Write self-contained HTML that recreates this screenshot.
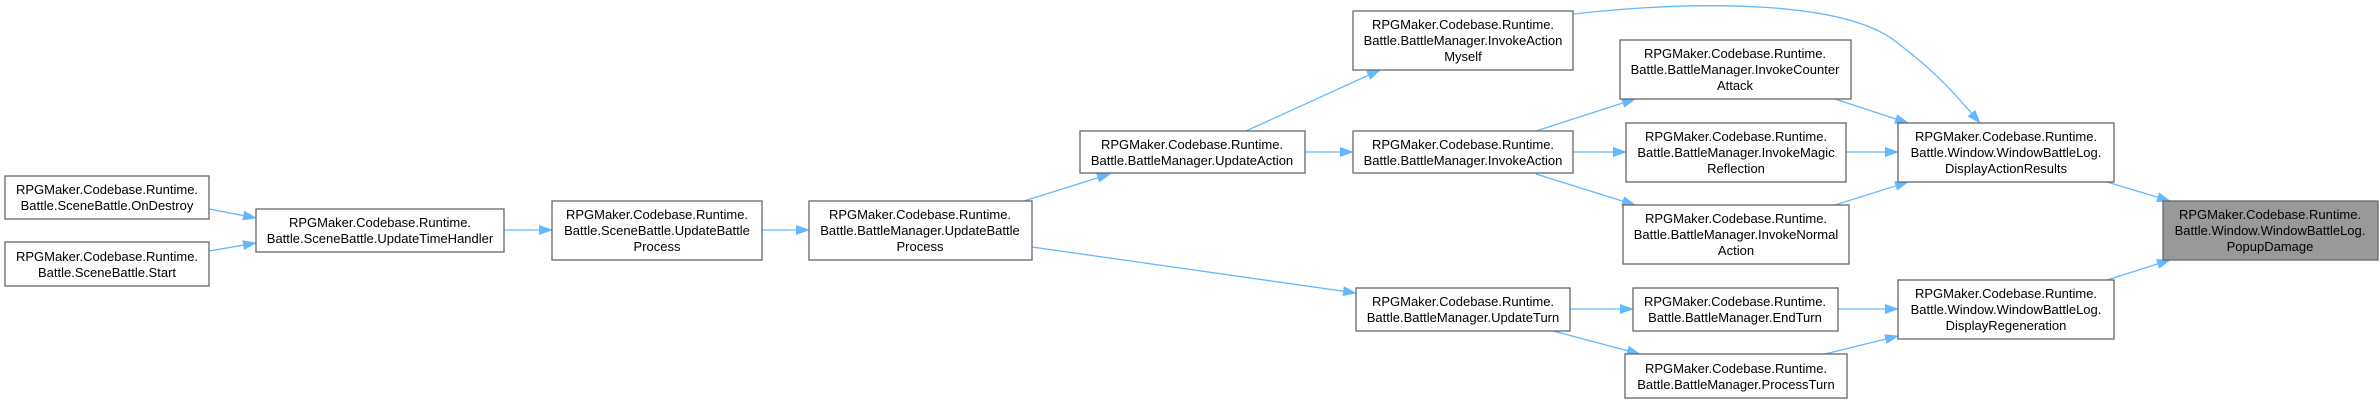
<!DOCTYPE html>
<html><head><meta charset="utf-8"><style>
html,body{margin:0;padding:0;background:#fff;}
svg{display:block;}
text{font-family:"Liberation Sans",sans-serif;font-size:13px;fill:#000;}
.n{fill:#fff;stroke:#666;stroke-width:1.3;}
.e{stroke:#63b8ff;stroke-width:1.3;fill:none;marker-end:url(#a);}
</style></head><body>
<svg width="2380" height="403" viewBox="0 0 2380 403" xmlns="http://www.w3.org/2000/svg">
<defs><marker id="a" markerWidth="14" markerHeight="10" refX="13" refY="5" orient="auto" markerUnits="userSpaceOnUse"><path d="M0,0 L14,5 L0,10 z" fill="#63b8ff"/></marker></defs>

<line class="e" x1="209" y1="209" x2="256" y2="218"/>
<line class="e" x1="209" y1="251" x2="256" y2="243"/>
<line class="e" x1="504" y1="230" x2="552" y2="230"/>
<line class="e" x1="762" y1="230" x2="809" y2="230"/>
<line class="e" x1="1024" y1="201" x2="1110" y2="174"/>
<line class="e" x1="1032" y1="247" x2="1356" y2="293"/>
<line class="e" x1="1246" y1="131" x2="1380" y2="70"/>
<line class="e" x1="1305" y1="152" x2="1353" y2="152"/>
<path class="e" d="M1573,14 C1700,0 1850,0 1900,45 C1940,75 1960,100 1980,123"/>
<line class="e" x1="1536" y1="131" x2="1635" y2="99"/>
<line class="e" x1="1573" y1="152" x2="1626" y2="152"/>
<line class="e" x1="1536" y1="174" x2="1635" y2="205"/>
<line class="e" x1="1835" y1="99" x2="1908" y2="123"/>
<line class="e" x1="1846" y1="152" x2="1898" y2="152"/>
<line class="e" x1="1835" y1="205" x2="1908" y2="182"/>
<line class="e" x1="2107" y1="182" x2="2170" y2="201"/>
<line class="e" x1="2107" y1="280" x2="2170" y2="260"/>
<line class="e" x1="1570" y1="309" x2="1633" y2="309"/>
<line class="e" x1="1553" y1="331" x2="1640" y2="354"/>
<line class="e" x1="1838" y1="309" x2="1898" y2="309"/>
<line class="e" x1="1825" y1="354" x2="1898" y2="336"/>

<rect class="n" x="5" y="176" width="204" height="43"/>
<text x="107" y="194" text-anchor="middle">RPGMaker.Codebase.Runtime.</text>
<text x="107" y="210" text-anchor="middle">Battle.SceneBattle.OnDestroy</text>

<rect class="n" x="5" y="242" width="204" height="44"/>
<text x="107" y="261" text-anchor="middle">RPGMaker.Codebase.Runtime.</text>
<text x="107" y="277" text-anchor="middle">Battle.SceneBattle.Start</text>

<rect class="n" x="256" y="209" width="248" height="43"/>
<text x="380" y="227" text-anchor="middle">RPGMaker.Codebase.Runtime.</text>
<text x="380" y="243" text-anchor="middle">Battle.SceneBattle.UpdateTimeHandler</text>

<rect class="n" x="552" y="201" width="210" height="59"/>
<text x="657" y="219" text-anchor="middle">RPGMaker.Codebase.Runtime.</text>
<text x="657" y="235" text-anchor="middle">Battle.SceneBattle.UpdateBattle</text>
<text x="657" y="251" text-anchor="middle">Process</text>

<rect class="n" x="809" y="201" width="223" height="59"/>
<text x="920" y="219" text-anchor="middle">RPGMaker.Codebase.Runtime.</text>
<text x="920" y="235" text-anchor="middle">Battle.BattleManager.UpdateBattle</text>
<text x="920" y="251" text-anchor="middle">Process</text>

<rect class="n" x="1080" y="131" width="225" height="42"/>
<text x="1192" y="149" text-anchor="middle">RPGMaker.Codebase.Runtime.</text>
<text x="1192" y="165" text-anchor="middle">Battle.BattleManager.UpdateAction</text>

<rect class="n" x="1353" y="11" width="220" height="59"/>
<text x="1463" y="29" text-anchor="middle">RPGMaker.Codebase.Runtime.</text>
<text x="1463" y="45" text-anchor="middle">Battle.BattleManager.InvokeAction</text>
<text x="1463" y="61" text-anchor="middle">Myself</text>

<rect class="n" x="1353" y="131" width="220" height="42"/>
<text x="1463" y="149" text-anchor="middle">RPGMaker.Codebase.Runtime.</text>
<text x="1463" y="165" text-anchor="middle">Battle.BattleManager.InvokeAction</text>

<rect class="n" x="1356" y="288" width="214" height="43"/>
<text x="1463" y="306" text-anchor="middle">RPGMaker.Codebase.Runtime.</text>
<text x="1463" y="322" text-anchor="middle">Battle.BattleManager.UpdateTurn</text>

<rect class="n" x="1620" y="40" width="231" height="59"/>
<text x="1735" y="58" text-anchor="middle">RPGMaker.Codebase.Runtime.</text>
<text x="1735" y="74" text-anchor="middle">Battle.BattleManager.InvokeCounter</text>
<text x="1735" y="90" text-anchor="middle">Attack</text>

<rect class="n" x="1626" y="123" width="220" height="59"/>
<text x="1736" y="141" text-anchor="middle">RPGMaker.Codebase.Runtime.</text>
<text x="1736" y="157" text-anchor="middle">Battle.BattleManager.InvokeMagic</text>
<text x="1736" y="173" text-anchor="middle">Reflection</text>

<rect class="n" x="1623" y="205" width="226" height="59"/>
<text x="1736" y="223" text-anchor="middle">RPGMaker.Codebase.Runtime.</text>
<text x="1736" y="239" text-anchor="middle">Battle.BattleManager.InvokeNormal</text>
<text x="1736" y="255" text-anchor="middle">Action</text>

<rect class="n" x="1633" y="288" width="205" height="43"/>
<text x="1735" y="306" text-anchor="middle">RPGMaker.Codebase.Runtime.</text>
<text x="1735" y="322" text-anchor="middle">Battle.BattleManager.EndTurn</text>

<rect class="n" x="1625" y="354" width="222" height="44"/>
<text x="1736" y="373" text-anchor="middle">RPGMaker.Codebase.Runtime.</text>
<text x="1736" y="389" text-anchor="middle">Battle.BattleManager.ProcessTurn</text>

<rect class="n" x="1898" y="123" width="216" height="59"/>
<text x="2006" y="141" text-anchor="middle">RPGMaker.Codebase.Runtime.</text>
<text x="2006" y="157" text-anchor="middle">Battle.Window.WindowBattleLog.</text>
<text x="2006" y="173" text-anchor="middle">DisplayActionResults</text>

<rect class="n" x="1898" y="280" width="216" height="59"/>
<text x="2006" y="298" text-anchor="middle">RPGMaker.Codebase.Runtime.</text>
<text x="2006" y="314" text-anchor="middle">Battle.Window.WindowBattleLog.</text>
<text x="2006" y="330" text-anchor="middle">DisplayRegeneration</text>

<rect x="2163" y="201" width="215" height="59" fill="#999" stroke="#666" stroke-width="1.3"/>
<text x="2270" y="219" text-anchor="middle">RPGMaker.Codebase.Runtime.</text>
<text x="2270" y="235" text-anchor="middle">Battle.Window.WindowBattleLog.</text>
<text x="2270" y="251" text-anchor="middle">PopupDamage</text>
</svg>
</body></html>
